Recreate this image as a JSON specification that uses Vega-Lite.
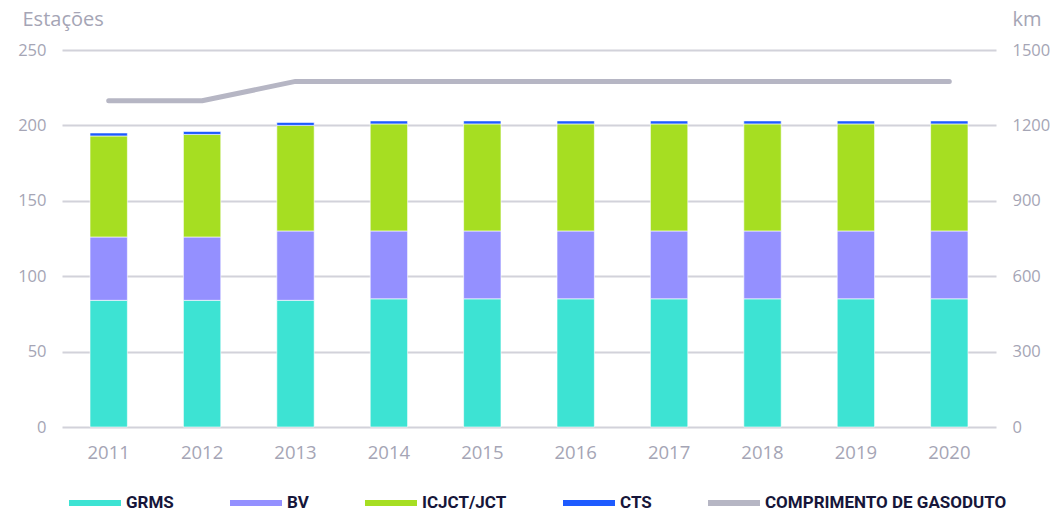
{
  "$schema": "https://vega.github.io/schema/vega-lite/v6.json",
  "autosize": {"type": "none"},
  "width": 934,
  "height": 377,
  "padding": {"left": 62, "top": 50, "right": 67, "bottom": 86},
  "background": "white",
  "config": {
    "view": {"stroke": null},
    "font": "Open Sans",
    "axis": {"labelColor": "#a5a5b5", "labelFontSize": 16.5, "labelFont": "Open Sans", "titleFont": "Open Sans", "titleColor": "#a5a5b5", "titleFontWeight": "normal", "titleFontSize": 20, "ticks": false, "domain": false, "gridColor": "#d2d2da", "gridWidth": 2}
  },
  "datasets": {
    "estacoes": [
      {"ano": "2011", "serie": "GRMS", "ordem": 1, "valor": 84},
      {"ano": "2011", "serie": "BV", "ordem": 2, "valor": 42},
      {"ano": "2011", "serie": "ICJCT/JCT", "ordem": 3, "valor": 67},
      {"ano": "2011", "serie": "CTS", "ordem": 4, "valor": 2},
      {"ano": "2012", "serie": "GRMS", "ordem": 1, "valor": 84},
      {"ano": "2012", "serie": "BV", "ordem": 2, "valor": 42},
      {"ano": "2012", "serie": "ICJCT/JCT", "ordem": 3, "valor": 68},
      {"ano": "2012", "serie": "CTS", "ordem": 4, "valor": 2},
      {"ano": "2013", "serie": "GRMS", "ordem": 1, "valor": 84},
      {"ano": "2013", "serie": "BV", "ordem": 2, "valor": 46},
      {"ano": "2013", "serie": "ICJCT/JCT", "ordem": 3, "valor": 70},
      {"ano": "2013", "serie": "CTS", "ordem": 4, "valor": 2},
      {"ano": "2014", "serie": "GRMS", "ordem": 1, "valor": 85},
      {"ano": "2014", "serie": "BV", "ordem": 2, "valor": 45},
      {"ano": "2014", "serie": "ICJCT/JCT", "ordem": 3, "valor": 71},
      {"ano": "2014", "serie": "CTS", "ordem": 4, "valor": 2},
      {"ano": "2015", "serie": "GRMS", "ordem": 1, "valor": 85},
      {"ano": "2015", "serie": "BV", "ordem": 2, "valor": 45},
      {"ano": "2015", "serie": "ICJCT/JCT", "ordem": 3, "valor": 71},
      {"ano": "2015", "serie": "CTS", "ordem": 4, "valor": 2},
      {"ano": "2016", "serie": "GRMS", "ordem": 1, "valor": 85},
      {"ano": "2016", "serie": "BV", "ordem": 2, "valor": 45},
      {"ano": "2016", "serie": "ICJCT/JCT", "ordem": 3, "valor": 71},
      {"ano": "2016", "serie": "CTS", "ordem": 4, "valor": 2},
      {"ano": "2017", "serie": "GRMS", "ordem": 1, "valor": 85},
      {"ano": "2017", "serie": "BV", "ordem": 2, "valor": 45},
      {"ano": "2017", "serie": "ICJCT/JCT", "ordem": 3, "valor": 71},
      {"ano": "2017", "serie": "CTS", "ordem": 4, "valor": 2},
      {"ano": "2018", "serie": "GRMS", "ordem": 1, "valor": 85},
      {"ano": "2018", "serie": "BV", "ordem": 2, "valor": 45},
      {"ano": "2018", "serie": "ICJCT/JCT", "ordem": 3, "valor": 71},
      {"ano": "2018", "serie": "CTS", "ordem": 4, "valor": 2},
      {"ano": "2019", "serie": "GRMS", "ordem": 1, "valor": 85},
      {"ano": "2019", "serie": "BV", "ordem": 2, "valor": 45},
      {"ano": "2019", "serie": "ICJCT/JCT", "ordem": 3, "valor": 71},
      {"ano": "2019", "serie": "CTS", "ordem": 4, "valor": 2},
      {"ano": "2020", "serie": "GRMS", "ordem": 1, "valor": 85},
      {"ano": "2020", "serie": "BV", "ordem": 2, "valor": 45},
      {"ano": "2020", "serie": "ICJCT/JCT", "ordem": 3, "valor": 71},
      {"ano": "2020", "serie": "CTS", "ordem": 4, "valor": 2}
    ],
    "gasoduto": [
      {"ano": "2011", "km": 1298},
      {"ano": "2012", "km": 1298},
      {"ano": "2013", "km": 1375},
      {"ano": "2014", "km": 1375},
      {"ano": "2015", "km": 1375},
      {"ano": "2016", "km": 1375},
      {"ano": "2017", "km": 1375},
      {"ano": "2018", "km": 1375},
      {"ano": "2019", "km": 1375},
      {"ano": "2020", "km": 1375}
    ]
  },
  "encoding": {
    "x": {"field": "ano", "type": "ordinal", "scale": {"paddingInner": 0.6, "paddingOuter": 0.3}, "axis": {"title": null, "labelAngle": 0, "labelPadding": 16, "labelFontSize": 18.5, "grid": false}}
  },
  "layer": [
    {
      "data": {"name": "estacoes"},
      "mark": {"type": "bar", "stroke": "white", "strokeWidth": 0.6},
      "encoding": {
        "y": {"field": "valor", "type": "quantitative", "stack": "zero", "scale": {"domain": [0, 250]}, "axis": {"title": "Estações", "values": [0, 50, 100, 150, 200, 250], "labelPadding": 16, "grid": true, "titleAngle": 0, "titleAlign": "left", "titleBaseline": "middle", "titleX": -40, "titleY": -31}},
        "order": {"field": "ordem", "type": "quantitative"},
        "color": {
          "field": "serie", "type": "nominal",
          "scale": {"domain": ["GRMS", "BV", "ICJCT/JCT", "CTS", "COMPRIMENTO DE GASODUTO"], "range": ["#3de3d3", "#9490ff", "#a6de22", "#1e5bff", "#b6b6c4"]},
          "legend": {"title": null, "orient": "none", "direction": "horizontal", "legendX": 7, "legendY": 427, "symbolType": "M-1,-0.115H1V0.115H-1Z", "symbolSize": 2704, "symbolStrokeWidth": 0, "labelFont": "Roboto", "labelFontWeight": "bold", "labelFontSize": 17, "labelColor": "#16163a", "labelOffset": 5, "labelLimit": 500, "columnPadding": 56, "gridAlign": "none"}
        }
      }
    },
    {
      "data": {"name": "gasoduto"},
      "mark": {"type": "line", "strokeWidth": 5, "strokeCap": "round", "strokeJoin": "round"},
      "encoding": {
        "y": {"field": "km", "type": "quantitative", "scale": {"domain": [0, 1500]}, "axis": {"orient": "right", "title": "km", "format": "d", "values": [0, 300, 600, 900, 1200, 1500], "labelPadding": 16, "grid": false, "titleAngle": 0, "titleAlign": "left", "titleBaseline": "middle", "titleX": 16, "titleY": -31}},
        "color": {"datum": "COMPRIMENTO DE GASODUTO"}
      }
    }
  ],
  "resolve": {"scale": {"y": "independent"}}
}
